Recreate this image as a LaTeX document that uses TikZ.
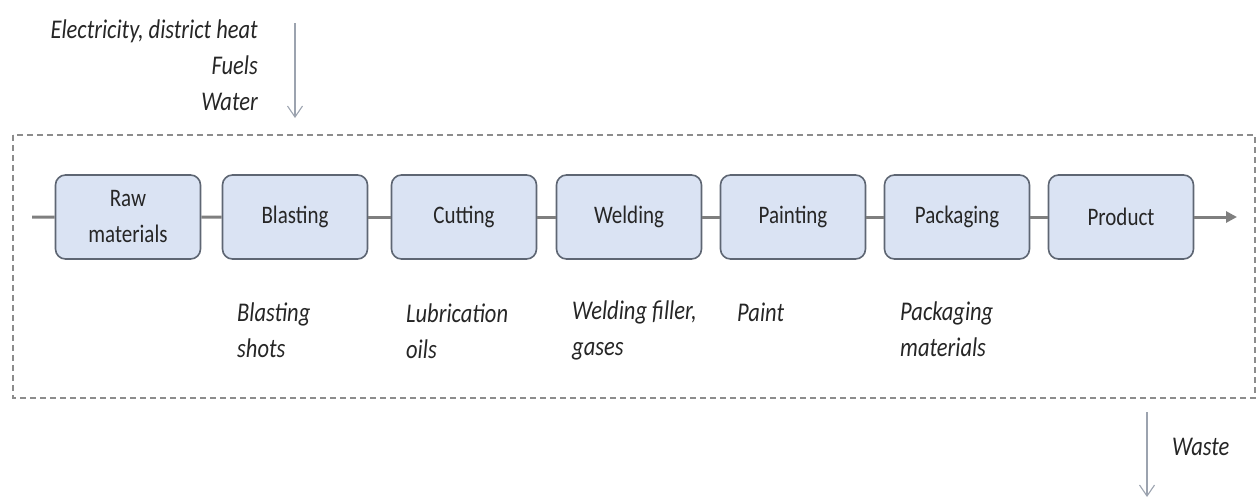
\documentclass[tikz,border=0pt]{standalone}
\usepackage{fontspec}
\setmainfont{Carlito}
\usetikzlibrary{arrows.meta}
\definecolor{boxfill}{HTML}{DAE3F3}
\definecolor{boxline}{HTML}{5E6673}
\definecolor{connc}{HTML}{7F7F7F}
\definecolor{framec}{HTML}{8C8C8C}
\definecolor{thinc}{HTML}{9CA3AF}
\definecolor{txt}{HTML}{262626}
\begin{document}
\begin{tikzpicture}[x=1pt,y=-1pt,
  stepbox/.style={draw=boxline, fill=boxfill, line width=1.6pt, rounded corners=10pt,
    minimum width=145pt, minimum height=70pt, yscale=1.2, inner sep=2pt, align=center,
    font=\fontsize{21}{30}\selectfont, text=txt},
  lab/.style={font=\fontsize{22.5}{30}\selectfont\itshape, text=txt, yscale=1.2, inner sep=0pt},
  conn/.style={draw=connc, line width=3pt},
  thinarrow/.style={draw=thinc, line width=1.1pt, -{Straight Barb[length=11pt,width=15pt,line width=1.1pt]}}
]
\useasboundingbox (0,0) rectangle (1260,498);
% frame
\draw[framec, line width=1.6pt, dash pattern=on 6pt off 4pt] (13,135) rectangle (1255,398);
% boxes
\node[stepbox] (b1) at (128,217) {Raw\\materials};
\node[stepbox] (b2) at (295,217) {Blasting};
\node[stepbox] (b3) at (464,217) {Cutting};
\node[stepbox] (b4) at (629,217) {Welding};
\node[stepbox] (b5) at (793,217) {Painting};
\node[stepbox] (b6) at (957,217) {Packaging};
\node[stepbox] (b7) at (1121,217) {Product};
\coordinate (in) at (32,217);
\coordinate (out) at (1237,217);
\draw[conn] (in) -- (b1);
\draw[conn] (b1) -- (b2);
\draw[conn] (b2) -- (b3);
\draw[conn] (b3) -- (b4);
\draw[conn] (b4) -- (b5);
\draw[conn] (b5) -- (b6);
\draw[conn] (b6) -- (b7);
\draw[conn, -{Triangle[length=11pt,width=11pt]}] (b7) -- (out);
% top input
\node[lab, anchor=east, align=right] (inputs) at (258,65) {Electricity, district heat\\Fuels\\Water};
\coordinate (ta) at (295,23);
\coordinate (tb) at (295,118);
\draw[thinarrow] (ta) -- (tb);
% bottom labels
\node[lab, anchor=west, align=left] (l2) at (237,330) {Blasting\\shots};
\node[lab, anchor=west, align=left] (l3) at (406,331) {Lubrication\\oils};
\node[lab, anchor=west, align=left] (l4) at (572,330) {Welding filler,\\gases};
\node[lab, anchor=west, align=left] (l5) at (737,312) {Paint};
\node[lab, anchor=west, align=left] (l6) at (900,329) {Packaging\\materials};
% waste
\coordinate (wa) at (1147,412);
\coordinate (wb) at (1147,497);
\draw[thinarrow] (wa) -- (wb);
\node[lab, anchor=west] (waste) at (1172,447) {Waste};
\end{tikzpicture}
\end{document}
